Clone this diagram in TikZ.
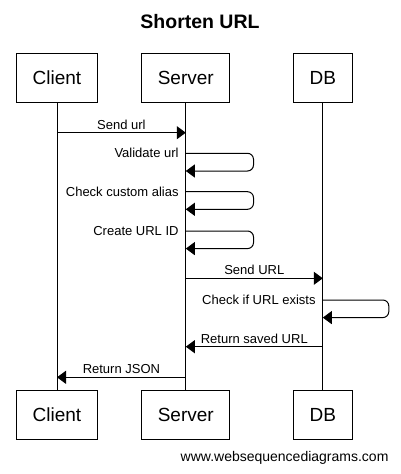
\documentclass[tikz,border=0pt]{standalone}
\usepackage{fontspec}
\setmainfont{Liberation Sans}
\usetikzlibrary{arrows.meta,positioning}

\tikzset{
	actor/.style={draw, line width=1pt, minimum height=49pt, inner xsep=16pt, font=\fontsize{19}{21}\selectfont},
	lifeline/.style={line width=1pt},
	msg/.style={line width=1pt, -{Triangle[length=9pt,width=13pt]}},
	selfmsg/.style={msg, rounded corners=6pt},
	msglabel/.style={font=\fontsize{13}{15}\selectfont, inner sep=3pt},
}

\begin{document}
\begin{tikzpicture}[x=1pt, y=-1pt]
				\fill[white] (0,0) rectangle (400,474);
				\node[font=\bfseries\fontsize{19.5}{22}\selectfont] (title) at (200,22) {Shorten URL};
				% actors, top and bottom
				\node[actor] (clientTop) at (57,77.5) {Client};
				\node[actor] (serverTop) at (185.8,77.5) {Server};
				\node[actor] (dbTop) at (322.8,77.5) {DB};
				\node[actor] (clientBot) at (57,414.7) {Client};
				\node[actor] (serverBot) at (185.8,414.7) {Server};
				\node[actor] (dbBot) at (322.8,414.7) {DB};
				\draw[lifeline] (clientTop) -- (clientBot);
				\draw[lifeline] (serverTop) -- (serverBot);
				\draw[lifeline] (dbTop) -- (dbBot);
				% message levels
				\coordinate (sendUrl) at (0,132.7);
				\coordinate (validate) at (0,153.3);
				\coordinate (validateBack) at (0,171);
				\coordinate (alias) at (0,191.7);
				\coordinate (aliasBack) at (0,209.3);
				\coordinate (createId) at (0,231);
				\coordinate (createIdBack) at (0,248.6);
				\coordinate (sendToDb) at (0,278.3);
				\coordinate (exists) at (0,300);
				\coordinate (existsBack) at (0,317.6);
				\coordinate (savedUrl) at (0,346.7);
				\coordinate (json) at (0,377.3);
				% messages
				\draw[msg] (clientTop |- sendUrl) -- node[msglabel, above] {Send url} (serverTop |- sendUrl);
				\draw[selfmsg] (serverTop |- validate) -- ++(67.7,0) |- (serverTop |- validateBack);
				\node[msglabel, anchor=east, xshift=-4pt] at (serverTop |- validate) {Validate url};
				\draw[selfmsg] (serverTop |- alias) -- ++(67.7,0) |- (serverTop |- aliasBack);
				\node[msglabel, anchor=east, xshift=-4pt] at (serverTop |- alias) {Check custom alias};
				\draw[selfmsg] (serverTop |- createId) -- ++(67.7,0) |- (serverTop |- createIdBack);
				\node[msglabel, anchor=east, xshift=-4pt] at (serverTop |- createId) {Create URL ID};
				\draw[msg] (serverTop |- sendToDb) -- node[msglabel, above] {Send URL} (dbTop |- sendToDb);
				\draw[selfmsg] (dbTop |- exists) -- ++(66,0) |- (dbTop |- existsBack);
				\node[msglabel, anchor=east, xshift=-4pt] at (dbTop |- exists) {Check if URL exists};
				\draw[msg] (dbTop |- savedUrl) -- node[msglabel, above] {Return saved URL} (serverTop |- savedUrl);
				\draw[msg] (serverTop |- json) -- node[msglabel, above] {Return JSON} (clientTop |- json);
				\node[font=\fontsize{14}{16}\selectfont, anchor=east] (footer) at (392,458) {www.websequencediagrams.com};
			\end{tikzpicture}
\end{document}
